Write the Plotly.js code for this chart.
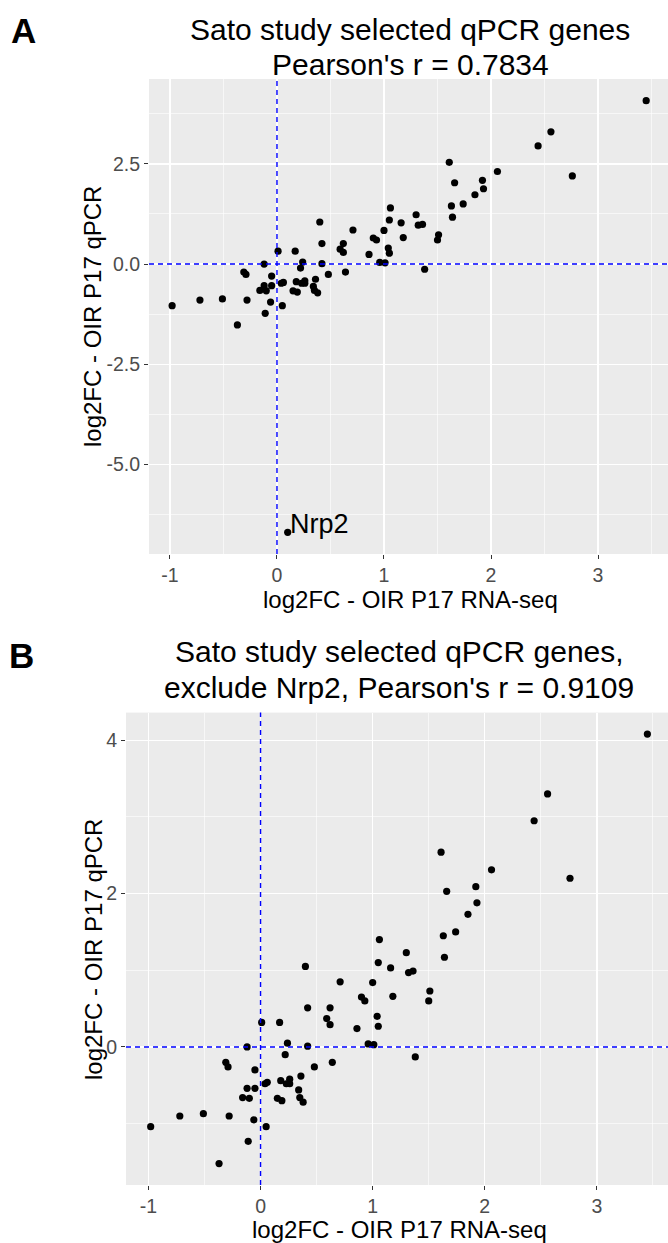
<!DOCTYPE html>
<html>
<head>
<meta charset="utf-8">
<script src="https://cdn.plot.ly/plotly-3.0.1.min.js"></script>
<style>
  html, body { margin: 0; padding: 0; background: #ffffff; }
  #chart { width: 668px; height: 1243px; }
</style>
</head>
<body>
<div id="chart"></div>
<script>
// ---- data (log2FC values) ----
const rnaseqLog2FC = [
  -0.98, -0.72, -0.51, -0.28, -0.37, -0.31, -0.29, -0.12, -0.12, -0.16,
  -0.10, -0.11, -0.06, -0.05, -0.05, 0.01, 0.05, 0.04, 0.06, 0.17,
  0.15, 0.19, 0.18, 0.22, 0.24, 0.23, 0.26, 0.26, 0.34, 0.35,
  0.38, 0.36, 0.42, 0.42, 0.48, 0.59, 0.62, 0.62, 0.64, 0.86,
  0.90, 0.93, 0.96, 1.01, 1.04, 1.05, 1.18, 1.38, 1.50, 1.51,
  3.45, 2.56, 2.44, 2.76, 2.06, 1.61, 1.66, 1.92, 1.93, 1.85,
  1.74, 1.63, 1.64, 1.30, 1.32, 1.36, 1.06, 1.05, 1.16, 0.40,
  0.71, 1.00
];
const qpcrLog2FC = [
  -1.04, -0.90, -0.87, -0.90, -1.52, -0.20, -0.26, 0.00, -0.54, -0.66,
  -0.67, -1.23, -0.95, -0.30, -0.54, 0.32, -1.04, -0.48, -0.46, 0.32,
  -0.67, -0.70, -0.44, -0.10, 0.05, -0.48, -0.42, -0.48, -0.56, -0.66,
  -0.72, -0.38, 0.51, 0.01, -0.26, 0.37, 0.51, 0.29, -0.20, 0.24,
  0.65, 0.60, 0.04, 0.03, 0.40, 0.27, 0.66, -0.13, 0.60, 0.73,
  4.08, 3.30, 2.95, 2.20, 2.31, 2.54, 2.03, 2.09, 1.88, 1.73,
  1.50, 1.45, 1.17, 1.23, 0.97, 0.99, 1.40, 1.10, 1.03, 1.05,
  0.85, 0.84
];
const outlierGene = ['Nrp2'];
const outlierRnaseq = [0.10];
const outlierQpcr = [-6.70];

const titleA = ["Sato study selected qPCR genes", "Pearson's r = 0.7834"];
const titleB = ["Sato study selected qPCR genes,", "exclude Nrp2, Pearson's r = 0.9109"];
const xTitle = "log2FC - OIR P17 RNA-seq";
const yTitle = "log2FC - OIR P17 qPCR";

const xTickVals = [-1, 0, 1, 2, 3];
const xTickText = ['-1', '0', '1', '2', '3'];
const yTickValsA = [-5, -2.5, 0, 2.5];
const yTickTextA = ['-5.0', '-2.5', '0.0', '2.5'];
const yTickValsB = [0, 2, 4];
const yTickTextB = ['0', '2', '4'];

// ---- layout helpers ----
const W = 668, H = 1243;
const FONT = 'Liberation Sans, Arial, sans-serif';
const px = v => v / W;
const py = v => 1 - v / H;

const markerStyle = { color: '#000000', size: 7.2 };

const traces = [
  { type: 'scatter', mode: 'markers', x: rnaseqLog2FC, y: qpcrLog2FC,
    xaxis: 'x', yaxis: 'y', marker: markerStyle, hoverinfo: 'x+y' },
  { type: 'scatter', mode: 'markers', x: outlierRnaseq, y: outlierQpcr,
    xaxis: 'x', yaxis: 'y', marker: markerStyle, text: outlierGene, hoverinfo: 'text' },
  { type: 'scatter', mode: 'markers', x: rnaseqLog2FC, y: qpcrLog2FC,
    xaxis: 'x2', yaxis: 'y2', marker: markerStyle, hoverinfo: 'x+y' }
];

function axisBase(extra) {
  return Object.assign({
    showline: false, zeroline: false,
    showgrid: true, gridcolor: '#ffffff', gridwidth: 1.3,
    ticks: 'outside', ticklen: 4, tickwidth: 1, tickcolor: '#333333',
    tickfont: { family: FONT, size: 19.5, color: '#4d4d4d' },
    tickmode: 'array', fixedrange: true
  }, extra);
}

const dashLine = { color: '#0000ff', width: 1.4, dash: '5px,4px' };

const layout = {
  width: W, height: H,
  margin: { l: 0, r: 0, t: 0, b: 0 },
  paper_bgcolor: '#ffffff',
  plot_bgcolor: '#EBEBEB',
  showlegend: false,
  font: { family: FONT, color: '#000000' },
  xaxis: axisBase({
    domain: [px(149), 1], range: [-1.196, 3.654], anchor: 'y',
    tickvals: xTickVals, ticktext: xTickText,
    minor: { tickmode: 'linear', tick0: 0.5, dtick: 1, showgrid: true, gridcolor: '#ffffff', gridwidth: 0.6, ticks: '' }
  }),
  yaxis: axisBase({
    domain: [py(554), py(79)], range: [-7.24, 4.62], anchor: 'x',
    tickvals: yTickValsA, ticktext: yTickTextA,
    minor: { tickmode: 'linear', tick0: 1.25, dtick: 2.5, showgrid: true, gridcolor: '#ffffff', gridwidth: 0.6, ticks: '' }
  }),
  xaxis2: axisBase({
    domain: [px(126), 1], range: [-1.2, 3.634], anchor: 'y2',
    tickvals: xTickVals, ticktext: xTickText,
    minor: { tickmode: 'linear', tick0: 0.5, dtick: 1, showgrid: true, gridcolor: '#ffffff', gridwidth: 0.6, ticks: '' }
  }),
  yaxis2: axisBase({
    domain: [py(1185), py(712.6)], range: [-1.80, 4.36], anchor: 'x2',
    tickvals: yTickValsB, ticktext: yTickTextB,
    minor: { tickmode: 'linear', tick0: 1, dtick: 2, showgrid: true, gridcolor: '#ffffff', gridwidth: 0.6, ticks: '' }
  }),
  shapes: [
    { type: 'line', layer: 'above', xref: 'x', yref: 'y domain', x0: 0, x1: 0, y0: 0, y1: 1, line: dashLine },
    { type: 'line', layer: 'above', xref: 'x domain', yref: 'y', x0: 0, x1: 1, y0: 0, y1: 0, line: dashLine },
    { type: 'line', layer: 'above', xref: 'x2', yref: 'y2 domain', x0: 0, x1: 0, y0: 0, y1: 1, line: dashLine },
    { type: 'line', layer: 'above', xref: 'x2 domain', yref: 'y2', x0: 0, x1: 1, y0: 0, y1: 0, line: dashLine }
  ],
  annotations: [
    // panel letters
    { text: '<b>A</b>', xref: 'paper', yref: 'paper', x: px(23), y: py(30), xanchor: 'center', yanchor: 'middle',
      showarrow: false, font: { family: FONT, size: 35, color: '#000000' } },
    { text: '<b>B</b>', xref: 'paper', yref: 'paper', x: px(21), y: py(655), xanchor: 'center', yanchor: 'middle',
      showarrow: false, font: { family: FONT, size: 35, color: '#000000' } },
    // panel titles (one annotation per line)
    { text: titleA[0], xref: 'paper', yref: 'paper', x: px(410), y: py(29), xanchor: 'center', yanchor: 'middle',
      showarrow: false, font: { family: FONT, size: 30, color: '#000000' } },
    { text: titleA[1], xref: 'paper', yref: 'paper', x: px(410), y: py(65), xanchor: 'center', yanchor: 'middle',
      showarrow: false, font: { family: FONT, size: 30, color: '#000000' } },
    { text: titleB[0], xref: 'paper', yref: 'paper', x: px(399), y: py(651), xanchor: 'center', yanchor: 'middle',
      showarrow: false, font: { family: FONT, size: 30, color: '#000000' } },
    { text: titleB[1], xref: 'paper', yref: 'paper', x: px(399), y: py(687), xanchor: 'center', yanchor: 'middle',
      showarrow: false, font: { family: FONT, size: 30, color: '#000000' } },
    // axis titles
    { text: xTitle, xref: 'paper', yref: 'paper', x: px(410), y: py(599), xanchor: 'center', yanchor: 'middle',
      showarrow: false, font: { family: FONT, size: 24, color: '#000000' } },
    { text: xTitle, xref: 'paper', yref: 'paper', x: px(399), y: py(1229), xanchor: 'center', yanchor: 'middle',
      showarrow: false, font: { family: FONT, size: 24, color: '#000000' } },
    { text: yTitle, xref: 'paper', yref: 'paper', x: px(93), y: py(316), xanchor: 'center', yanchor: 'middle',
      textangle: -90, showarrow: false, font: { family: FONT, size: 24, color: '#000000' } },
    { text: yTitle, xref: 'paper', yref: 'paper', x: px(93), y: py(949), xanchor: 'center', yanchor: 'middle',
      textangle: -90, showarrow: false, font: { family: FONT, size: 24, color: '#000000' } },
    // outlier gene label
    { text: outlierGene[0], xref: 'x', yref: 'y', x: outlierRnaseq[0], y: outlierQpcr[0],
      xanchor: 'left', yanchor: 'bottom', xshift: 0, yshift: -9, showarrow: false,
      font: { family: FONT, size: 27, color: '#000000' } }
  ]
};

Plotly.newPlot('chart', traces, layout, { staticPlot: true, displayModeBar: false });
</script>
</body>
</html>
